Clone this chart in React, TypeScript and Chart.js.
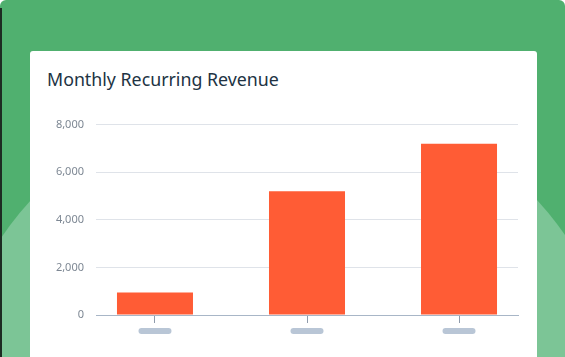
import React, { useEffect, useRef } from "react";
import { Chart, registerables, CategoryScale } from "chart.js";

Chart.register(...registerables);

class PaddedCategoryScale extends CategoryScale {
  static id = "paddedCategory";
  static defaults = (CategoryScale as any).defaults;
  configure() {
    super.configure();
    const pad = (this.options as any).edgePad ?? 0.5;
    (this as any)._startValue = this.min - pad;
    (this as any)._valueRange = Math.max(this.max + pad - (this.min - pad), 1);
  }
}
Chart.register(PaddedCategoryScale as any);

const categories = ["Month 1", "Month 2", "Month 3"];
const revenue = [950, 5200, 7200];
const yMin = 0;
const yMax = 8000;
const yStep = 2000;
const title = "Monthly Recurring Revenue";

const pillPlugin = {
  id: "pills",
  afterDraw(chart: any) {
    const xs = chart.scales.x;
    const ctx = chart.ctx;
    ctx.save();
    ctx.fillStyle = "#b9c6d6";
    xs.ticks.forEach((_t: any, i: number) => {
      const x = xs.getPixelForTick(i);
      const y = chart.chartArea.bottom + 13;
      ctx.beginPath();
      (ctx as any).roundRect(x - 16.5, y, 33, 6, 3);
      ctx.fill();
    });
    ctx.restore();
  },
};

export default function App() {
  const ref = useRef<HTMLCanvasElement>(null);
  useEffect(() => {
    if (!ref.current) return;
    const chart = new Chart(ref.current, {
      type: "bar",
      data: {
        labels: categories,
        datasets: [
          {
            label: title,
            data: revenue,
            backgroundColor: "#ff5c35",
            borderWidth: 0,
            categoryPercentage: 1,
            barPercentage: 0.5,
          },
        ],
      },
      options: {
        animation: false,
        responsive: true,
        maintainAspectRatio: false,
        layout: { padding: { top: 10, right: 19, left: 0, bottom: 0 } },
        plugins: { legend: { display: false }, tooltip: { enabled: false }, title: { display: false } },
        scales: {
          x: {
            type: "paddedCategory" as any,
            edgePad: 0.388,
            offset: true,
            grid: {
              offset: false,
              drawOnChartArea: false,
              drawTicks: true,
              tickLength: 8,
              color: "#8f9bab",
            },
            border: { display: true, color: "#a8b6c7", width: 1 },
            ticks: { display: false },
            afterFit: (s: any) => {
              s.height = 42;
            },
          } as any,
          y: {
            min: yMin,
            max: yMax,
            border: { display: false },
            grid: {
              drawTicks: false,
              color: (c: any) => (c.tick && c.tick.value === 0 ? "rgba(0,0,0,0)" : "#dfe3e9"),
            },
            ticks: {
              stepSize: yStep,
              padding: 12,
              color: "#7d8793",
              font: { family: "'Noto Sans', sans-serif", size: 11 },
              callback: (v: any) => Number(v).toLocaleString("en-US"),
            },
            afterFit: (s: any) => {
              s.width = 66;
            },
          },
        },
      },
      plugins: [pillPlugin],
    });
    return () => chart.destroy();
  }, []);

  return (
    <div
      style={{
        position: "fixed",
        left: 0,
        top: 0,
        width: 565,
        height: 357,
        overflow: "hidden",
        background: "#50b06f",
        borderRadius: "6px 6px 0 0",
      }}
    >
      <div
        style={{
          position: "absolute",
          left: 283.5 - 342,
          top: 430 - 342,
          width: 684,
          height: 684,
          borderRadius: "50%",
          background: "#7cc596",
        }}
      />
      <div style={{ position: "absolute", left: 0, top: 8, width: 2, height: 349, background: "#1d2b22" }} />
      <div
        style={{
          position: "absolute",
          left: 30,
          top: 51,
          width: 507,
          height: 320,
          background: "#ffffff",
          borderRadius: 3,
        }}
      >
        <div
          style={{
            position: "absolute",
            left: 17,
            top: 16,
            fontFamily: "'Noto Sans', sans-serif",
            fontSize: 17.8,
            color: "#213343",
            whiteSpace: "nowrap",
            lineHeight: "24px",
          }}
        >
          {title}
        </div>
        <div style={{ position: "absolute", left: 0, top: 55, width: 507, height: 251 }}>
          <canvas ref={ref} />
        </div>
      </div>
    </div>
  );
}
